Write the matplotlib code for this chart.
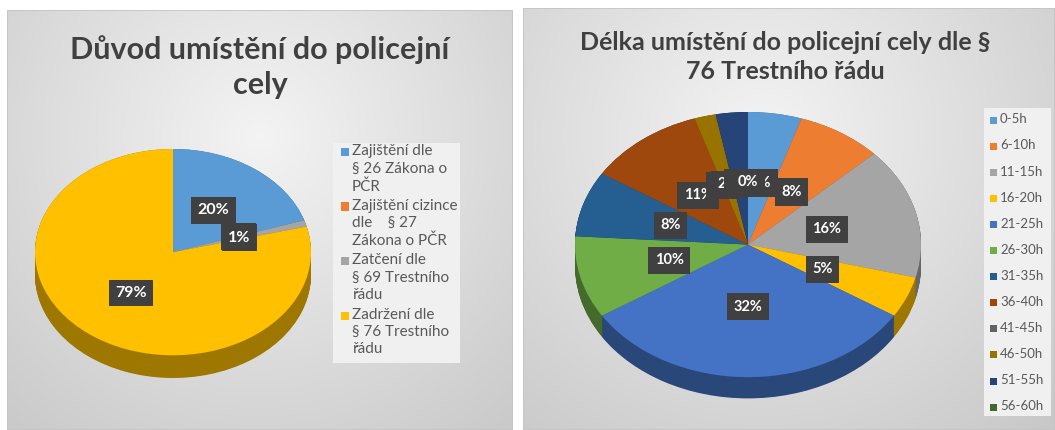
import numpy as np
import matplotlib.pyplot as plt
from matplotlib.colors import to_rgb
from matplotlib.patches import Rectangle

plt.rcParams['font.family'] = ['Lato', 'DejaVu Sans']

# left chart: reason for placement in a police cell
reason_labels = ["Zajištění dle\n§ 26 Zákona o\nPČR",
                 "Zajištění cizince\ndle    § 27\nZákona o PČR",
                 "Zatčení dle\n§ 69 Trestního\nřádu",
                 "Zadržení dle\n§ 76 Trestního\nřádu"]
reason_share = [20, 0, 1, 79]
reason_colors = ['#5B9BD5', '#ED7D31', '#A5A5A5', '#FFC000']

# right chart: length of placement (§ 76)
length_labels = ['0-5h', '6-10h', '11-15h', '16-20h', '21-25h', '26-30h',
                 '31-35h', '36-40h', '41-45h', '46-50h', '51-55h', '56-60h']
length_share = [5, 8, 16, 5, 32, 10, 8, 11, 0, 2, 3, 0]
length_colors = ['#5B9BD5', '#ED7D31', '#A5A5A5', '#FFC000', '#4472C4', '#70AD47',
                 '#255E91', '#9E480E', '#636363', '#997300', '#264478', '#43682B']

W, H = 1055, 430
fig = plt.figure(figsize=(W / 100, H / 100), dpi=100)


def px(x0, y0, x1, y1):
    # pixel box (top-left origin) -> figure fraction rect
    return [x0 / W, (H - y1) / H, (x1 - x0) / W, (y1 - y0) / H]


def panel(x0, y0, x1, y1, cx, cy):
    bg = fig.add_axes(px(x0, y0, x1, y1))
    yy, xx = np.mgrid[0:1:200j, 0:1:200j]
    r = np.clip(np.sqrt(((xx - cx) / 0.8) ** 2 + ((yy - cy) / 0.95) ** 2), 0, 1)
    v = 0.955 - 0.17 * r
    bg.imshow(np.dstack([v, v, v]), extent=(0, 1, 1, 0), aspect='auto')
    bg.add_patch(Rectangle((0, 0), 1, 1, transform=bg.transAxes, fill=False,
                           ec='#c4c4c4', lw=1.2))
    bg.set_xlim(0, 1)
    bg.set_ylim(1, 0)
    bg.set_axis_off()


def pie3d(ax, values, colors, depth, pctdist, fsize, pad):
    dark = [tuple(c * 0.62 for c in to_rgb(col)) for col in colors]
    for d in np.linspace(depth, 0.0, 30):
        ax.pie(values, colors=dark, startangle=90, counterclock=False,
               center=(0, -d), wedgeprops=dict(linewidth=0))
    wedges, texts, autotexts = ax.pie(
        values, colors=colors, startangle=90, counterclock=False,
        autopct='%.0f%%', pctdistance=pctdist, wedgeprops=dict(linewidth=0),
        textprops=dict(color='white', fontsize=fsize, fontweight='bold'))
    for t in autotexts:
        t.set_bbox(dict(boxstyle='square,pad=%.2f' % pad, fc='#404040', ec='none'))
    ax.set_aspect('auto')
    ax.patch.set_visible(False)
    return wedges


def legend(colors, labels, x, y0, step, box, fsize, lsp=1.2, sq=7):
    fig.patches.append(Rectangle((box[0] / W, 1 - box[3] / H),
                                 (box[2] - box[0]) / W, (box[3] - box[1]) / H,
                                 transform=fig.transFigure, fc='#f0f0f0',
                                 ec='none', zorder=1))
    for i, (c, lab) in enumerate(zip(colors, labels)):
        y = y0 + i * step
        fig.patches.append(Rectangle((x / W, 1 - (y + sq / 2) / H), sq / W, sq / H,
                                     transform=fig.transFigure, fc=c, ec='none',
                                     zorder=2))
        fig.text((x + sq + 3) / W, 1 - (y - fsize * 0.7) / H, lab, ha='left',
                 va='top', fontsize=fsize, color='#595959', linespacing=lsp,
                 zorder=3)


# ---- left panel ----
panel(7, 10, 513, 430, 0.5, 0.3)
ax1 = fig.add_axes(px(35, 149, 311, 378))
w1 = pie3d(ax1, reason_share, reason_colors, 0.22, 0.5, 11.5, 0.4)
ax1.set_xlim(-1, 1)
ax1.set_ylim(-1.22, 1.0)
fig.text(260 / W, 1 - 67 / H, "Důvod umístění do policejní\ncely", ha='center',
         va='center', fontsize=22, fontweight='bold', color='#404040',
         linespacing=1.3)
legend(reason_colors, reason_labels, 341, 152, 54.5, (333, 143, 460, 363), 11,
       lsp=1.3, sq=8)

# ---- right panel ----
panel(523, 8, 1055, 430, 0.45, 0.3)
ax2 = fig.add_axes(px(575, 112, 921, 409))
w2 = pie3d(ax2, length_share, length_colors, 0.16, 0.47, 10.5, 0.45)
ax2.set_xlim(-1, 1)
ax2.set_ylim(-1.24, 1.0)
fig.text(785 / W, 1 - 57 / H, "Délka umístění do policejní cely dle §\n76 Trestního řádu",
         ha='center', va='center', fontsize=18, fontweight='bold',
         color='#404040', linespacing=1.3)
legend(length_colors, length_labels, 990, 120, 26.1, (984, 108, 1051, 416), 9.5,
       sq=7)

fig.savefig('out.png', dpi=100)
